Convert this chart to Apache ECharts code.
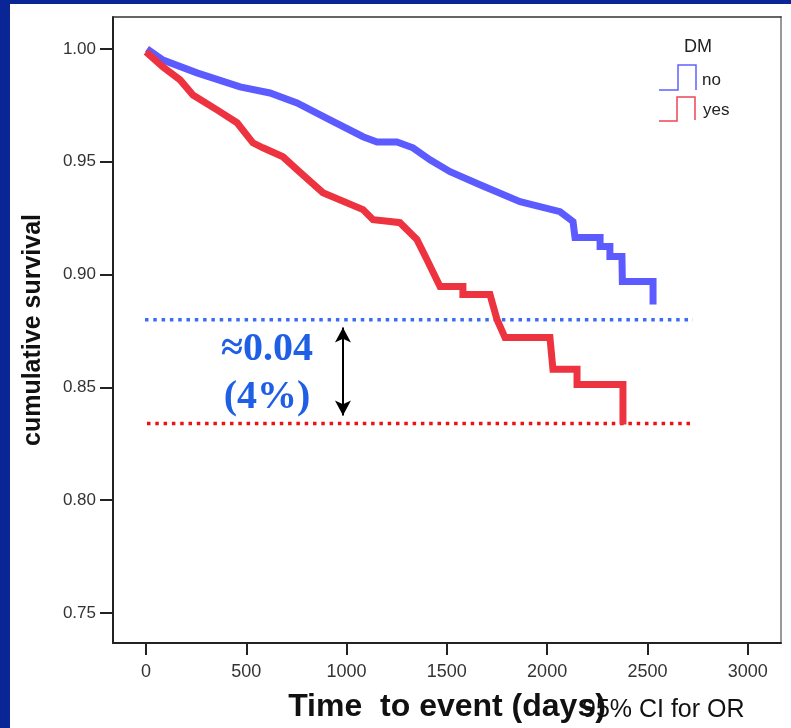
<!DOCTYPE html>
<html>
<head>
<meta charset="utf-8">
<script src="https://cdn.jsdelivr.net/npm/echarts@6/dist/echarts.min.js"></script>
<style>
  html, body { margin: 0; padding: 0; background: #fff; }
  #chart { width: 791px; height: 728px; }
</style>
</head>
<body>
<div id="chart"></div>
<script>
// Kaplan-Meier curves (time in days, cumulative survival)
const noTime = [5, 85, 254, 469, 618, 753, 917, 1082, 1152, 1251, 1331, 1416, 1516, 1665, 1865, 2064, 2129, 2139, 2264, 2264, 2313, 2313, 2373, 2375, 2528, 2528];
const noSurv = [1.000, 0.9951, 0.9894, 0.9832, 0.9805, 0.9761, 0.9686, 0.9611, 0.9588, 0.9588, 0.9562, 0.9509, 0.9456, 0.9398, 0.9323, 0.9279, 0.9235, 0.9164, 0.9164, 0.9124, 0.9124, 0.908, 0.908, 0.8969, 0.8969, 0.8867];

const yesTime = [0, 85, 170, 234, 354, 454, 533, 583, 683, 753, 882, 1082, 1132, 1217, 1266, 1351, 1401, 1466, 1580, 1580, 1715, 1750, 1790, 2014, 2029, 2149, 2149, 2378, 2378];
const yesSurv = [0.9987, 0.992, 0.9863, 0.9796, 0.973, 0.9673, 0.9584, 0.9562, 0.9522, 0.9465, 0.9363, 0.9288, 0.9243, 0.9235, 0.923, 0.9155, 0.9066, 0.8947, 0.8947, 0.8912, 0.8912, 0.8801, 0.8721, 0.8721, 0.858, 0.858, 0.8513, 0.8513, 0.8336];

// reference levels and the gap arrow
const levelNo = 0.880;
const levelYes = 0.834;
const levelNoSpan = [-5, 2727];
const levelYesSpan = [5, 2717];
const gapArrowTime = 982;

const xTicks = [0, 500, 1000, 1500, 2000, 2500, 3000];
const yTicks = [0.75, 0.80, 0.85, 0.90, 0.95, 1.00];

const zip = (a, b) => a.map((v, i) => [v, b[i]]);

const chart = echarts.init(document.getElementById('chart'));
const font = 'Liberation Sans, Arial, sans-serif';
const xMin = -164.5, xMax = 3166, yMin = 0.73673, yMax = 1.01416;

chart.setOption({
  animation: false,
  backgroundColor: '#fff',
  grid: { left: 113, top: 17, right: 10, bottom: 84 },
  xAxis: [{
    type: 'value', position: 'bottom', min: xMin, max: xMax,
    axisLine: { onZero: false, lineStyle: { color: '#222', width: 2 } },
    axisTick: { customValues: xTicks, length: 12, lineStyle: { color: '#222', width: 2 } },
    axisLabel: { customValues: xTicks, fontSize: 18, color: '#333', margin: 20, fontFamily: font,
      formatter: v => String(v) },
    splitLine: { show: false },
    name: 'Time  to event (days)', nameLocation: 'middle', nameGap: 48,
    nameTextStyle: { fontSize: 32, fontWeight: 'bold', color: '#111', fontFamily: font }
  }, {
    type: 'value', position: 'top', min: xMin, max: xMax,
    axisLine: { onZero: false, lineStyle: { color: '#333', width: 1.5 } },
    axisTick: { show: false }, axisLabel: { show: false }, splitLine: { show: false }
  }],
  yAxis: [{
    type: 'value', position: 'left', min: yMin, max: yMax,
    axisLine: { onZero: false, lineStyle: { color: '#222', width: 2 } },
    axisTick: { customValues: yTicks, length: 13, lineStyle: { color: '#222', width: 2 } },
    axisLabel: { customValues: yTicks, fontSize: 17, color: '#333', margin: 17, fontFamily: font,
      formatter: v => v.toFixed(2) },
    splitLine: { show: false },
    name: 'cumulative survival', nameLocation: 'middle', nameGap: 67, nameRotate: 90,
    nameTextStyle: { fontSize: 25, fontWeight: 'bold', color: '#111', fontFamily: font }
  }, {
    type: 'value', position: 'right', min: yMin, max: yMax,
    axisLine: { onZero: false, lineStyle: { color: '#999', width: 2 } },
    axisTick: { show: false }, axisLabel: { show: false }, splitLine: { show: false }
  }],
  series: [
    {
      name: 'level no', type: 'line', data: zip(levelNoSpan, [levelNo, levelNo]),
      symbol: 'none', lineStyle: { color: '#3a6cf4', width: 3.5, type: [3.5, 4.8] }, z: 1
    },
    {
      name: 'level yes', type: 'line', data: zip(levelYesSpan, [levelYes, levelYes]),
      symbol: 'none', lineStyle: { color: '#ee1111', width: 3.5, type: [3.5, 4.8] }, z: 1
    },
    {
      name: 'no', type: 'line', data: zip(noTime, noSurv), symbol: 'none',
      lineStyle: { color: '#5b5bff', width: 7, join: 'miter' }, z: 3
    },
    {
      name: 'yes', type: 'line', data: zip(yesTime, yesSurv), symbol: 'none',
      lineStyle: { color: '#ee3340', width: 7, join: 'miter' }, z: 4,
      markLine: {
        silent: true, symbol: ['arrow', 'arrow'], symbolSize: [12, 15],
        lineStyle: { color: '#000', width: 2, type: 'solid' },
        label: { show: false },
        data: [[{ coord: [gapArrowTime, levelNo - 0.0035] }, { coord: [gapArrowTime, levelYes + 0.0035] }]]
      }
    }
  ],
  graphic: [
    { type: 'rect', shape: { x: 0, y: 0, width: 791, height: 4 }, style: { fill: '#0a2596' } },
    { type: 'rect', shape: { x: 0, y: 0, width: 10, height: 728 }, style: { fill: '#0a2596' } },
    { type: 'text', style: { x: 267, y: 350, text: '\u22480.04', fill: '#1f5fe6',
        font: 'bold 40px "Liberation Serif", "Times New Roman", serif', textAlign: 'center', textVerticalAlign: 'middle' } },
    { type: 'text', style: { x: 267, y: 398, text: '(4%)', fill: '#1f5fe6',
        font: 'bold 40px "Liberation Serif", "Times New Roman", serif', textAlign: 'center', textVerticalAlign: 'middle' } },
    { type: 'text', style: { x: 582, y: 710, text: '95% CI for OR', fill: '#111',
        font: '25px "Liberation Sans", Arial, sans-serif', textAlign: 'left', textVerticalAlign: 'middle' } },
    // legend
    { type: 'text', style: { x: 698, y: 47, text: 'DM', fill: '#222',
        font: '18px "Liberation Sans", Arial, sans-serif', textAlign: 'center', textVerticalAlign: 'middle' } },
    { type: 'polyline', shape: { points: [[659, 90], [678, 90], [678, 65], [696, 65], [696, 90]] },
      style: { stroke: '#6060ff', lineWidth: 1.5, fill: null } },
    { type: 'text', style: { x: 702, y: 80, text: 'no', fill: '#222',
        font: '17px "Liberation Sans", Arial, sans-serif', textAlign: 'left', textVerticalAlign: 'middle' } },
    { type: 'polyline', shape: { points: [[659, 121], [677, 121], [677, 97], [695, 97], [695, 120]] },
      style: { stroke: '#ee4455', lineWidth: 1.5, fill: null } },
    { type: 'text', style: { x: 703, y: 110, text: 'yes', fill: '#222',
        font: '17px "Liberation Sans", Arial, sans-serif', textAlign: 'left', textVerticalAlign: 'middle' } }
  ]
});
</script>
</body>
</html>
